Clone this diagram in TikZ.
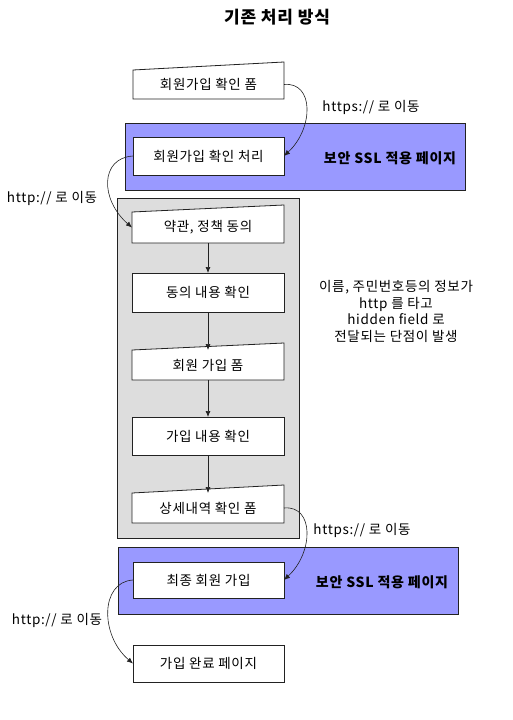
\documentclass[tikz,border=0pt]{standalone}
\usepackage{fontspec}
\setmainfont{Noto Sans CJK KR}[LetterSpace=5]
\usetikzlibrary{arrows.meta,backgrounds}
\definecolor{sslblue}{HTML}{9999FF}
\definecolor{areagray}{HTML}{DDDDDD}
\definecolor{edge}{HTML}{222222}
\begin{document}
\begin{tikzpicture}[x=1pt,y=-1pt,
  every node/.style={inner sep=0pt, outer sep=0pt},
  txt/.style={font=\fontsize{13.5}{16}\selectfont},
  boxline/.style={draw=edge, line width=0.8pt},
  pagebox/.style={boxline, fill=white, minimum width=151pt, anchor=north west, txt},
  formbox/.style={minimum width=151pt, anchor=north west, txt},
  formline/.style={boxline, fill=white},
  area/.style={boxline, anchor=north west},
  flow/.style={-{Latex[length=6pt,width=5pt]}, line width=0.7pt, draw=edge},
  hop/.style={-{Latex[length=6pt,width=5pt]}, line width=0.6pt, draw=edge},
  ssltext/.style={font=\fontsize{14}{16}\selectfont\bfseries},
]
\useasboundingbox (0,0) rectangle (512,720);

\node[font=\fontsize{17}{19}\selectfont\bfseries] (title) at (277,17) {기존 처리 방식};

\begin{scope}[on background layer]
  \node[area, fill=sslblue, minimum width=340pt, minimum height=67pt] (ssl1) at (125,123) {};
  \node[area, fill=areagray, minimum width=182pt, minimum height=340pt] (grayarea) at (117,198) {};
  \node[area, fill=sslblue, minimum width=340pt, minimum height=67pt] (ssl2) at (118,547) {};
\end{scope}

\node[ssltext] (sslt1) at (390,158) {보안 SSL 적용 페이지};
\node[ssltext] (sslt2) at (382,582) {보안 SSL 적용 페이지};

\node[formbox, minimum height=29pt] (b1) at (133,70) {회원가입 확인 폼};
\node[pagebox, minimum height=38pt] (b2) at (133,137) {회원가입 확인 처리};
\node[formbox, minimum height=31pt, minimum width=152pt] (b3) at (132,212) {약관, 정책 동의};
\node[pagebox, minimum height=39pt, minimum width=152pt] (b4) at (132,273) {동의 내용 확인};
\node[formbox, minimum height=30pt, minimum width=152pt] (b5) at (132,350) {회원 가입 폼};
\node[pagebox, minimum height=38pt, minimum width=152pt] (b6) at (132,417) {가입 내용 확인};
\node[formbox, minimum height=30pt, minimum width=152pt] (b7) at (132,493) {상세내역 확인 폼};
\node[pagebox, minimum height=36pt] (b8) at (133,562) {최종 회원 가입};
\node[pagebox, minimum height=37pt] (b9) at (133,645) {가입 완료 페이지};

\begin{scope}[on background layer]
  \foreach \n/\r in {b1/8, b3/7, b5/7, b7/8}{
    \draw[formline] (\n.south west) -- (\n.north west) -- ([yshift=\r pt]\n.north east) -- (\n.south east) -- cycle;
  }
\end{scope}

\node[txt, align=center, font=\fontsize{13.5}{16.5}\selectfont] (note) at (396,311.5)
  {이름, 주민번호등의 정보가\\http 를 타고\\hidden field 로\\전달되는 단점이 발생};

\node[txt] (l1) at (371,107) {https:// 로 이동};
\node[txt] (l2) at (52,198) {http:// 로 이동};
\node[txt] (l3) at (362,530) {https:// 로 이동};
\node[txt] (l4) at (57,620) {http:// 로 이동};

\draw[flow] (b3) -- (b4);
\draw[flow] (b4) -- (b5);
\draw[flow] (b5) -- (b6);
\draw[flow] (b6) -- (b7);

\draw[hop] (b1.east) .. controls ([shift={(30,-3)}]b1.east) and ([shift={(30,-28)}]b2.east) .. (b2.east);
\draw[hop] (b2.west) .. controls ([shift={(-33,2)}]b2.west) and ([shift={(-32,-28)}]b3.west) .. (b3.west);
\draw[hop] (b7.east) .. controls ([shift={(30,-3)}]b7.east) and ([shift={(30,-28)}]b8.east) .. (b8.east);
\draw[hop] (b8.west) .. controls ([shift={(-33,2)}]b8.west) and ([shift={(-33,-28)}]b9.west) .. (b9.west);
\end{tikzpicture}
\end{document}
